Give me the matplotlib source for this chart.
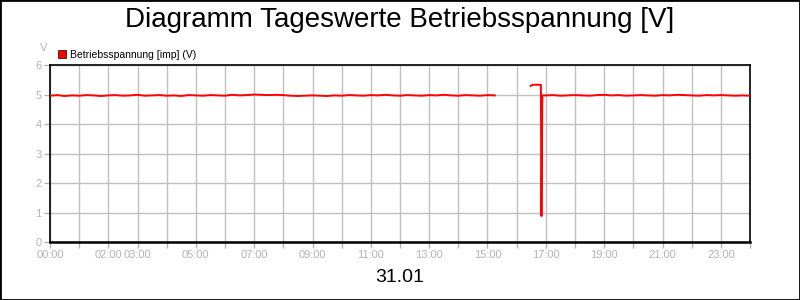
import matplotlib
matplotlib.use("Agg")
import matplotlib.pyplot as plt
from matplotlib.patches import Patch, Rectangle
import numpy as np

plt.rcParams['font.family'] = ['Liberation Sans', 'DejaVu Sans']

# Betriebsspannung, Werte alle 15 min (00:00 - 15:15)
volts_morning = [4.96, 4.98, 4.95, 4.97, 4.96, 4.98, 4.97, 4.95, 4.97, 4.98,
                 4.96, 4.97, 4.99, 4.96, 4.97, 4.98, 4.96, 4.97, 4.95, 4.98,
                 4.97, 4.96, 4.98, 4.97, 4.96, 4.99, 4.97, 4.98, 5.00, 4.99,
                 4.98, 4.99, 4.98, 4.96, 4.95, 4.96, 4.97, 4.96, 4.95, 4.97,
                 4.96, 4.98, 4.97, 4.96, 4.98, 4.97, 4.99, 4.97, 4.96, 4.98,
                 4.97, 4.96, 4.98, 4.97, 4.99, 4.97, 4.96, 4.98, 4.97, 4.96,
                 4.98, 4.97]
hours_morning = np.arange(len(volts_morning)) * 0.25

# kurzer Ausreisser gegen 17:00
hours_event = [16.48, 16.55, 16.83, 16.85, 16.88]
volts_event = [5.29, 5.33, 5.33, 0.88, 4.97]

# 17:00 - 24:00
volts_evening = [4.97, 4.98, 4.96, 4.97, 4.98, 4.97, 4.96, 4.98, 4.99, 4.97,
                 4.98, 4.96, 4.97, 4.98, 4.97, 4.96, 4.98, 4.97, 4.99, 4.98,
                 4.97, 4.96, 4.98, 4.97, 4.98, 4.97, 4.96, 4.97, 4.96]
hours_evening = 17.0 + np.arange(len(volts_evening)) * 0.25

hours = np.concatenate([hours_morning, [15.6], hours_event, hours_evening])
volts = np.concatenate([volts_morning, [np.nan], volts_event, volts_evening])

tick_labels = {0: "00:00", 2: "02:00", 3: "03:00", 5: "05:00", 7: "07:00",
               9: "09:00", 11: "11:00", 13: "13:00", 15: "15:00", 17: "17:00",
               19: "19:00", 21: "21:00", 23: "23:00"}

gray = "#b4b4b4"

fig = plt.figure(figsize=(8, 3), dpi=100)
ax = fig.add_axes([0.0625, 0.1933, 0.875, 0.59])

ax.plot(hours, volts, color="#ff0000", lw=1.4, zorder=3)

ax.set_xlim(0, 24)
ax.set_ylim(0, 6)
ax.set_xticks(range(25))
ax.set_xticklabels([tick_labels.get(h, "") for h in range(25)])
ax.set_yticks(range(7))
ax.grid(True, color="#c0c0c0", lw=1)
ax.tick_params(colors=gray, labelsize=8, length=4, width=1, pad=2)
for s in ax.spines.values():
    s.set_color("black")
    s.set_linewidth(1.2)
ax.spines['bottom'].set_linewidth(1.8)

fig.suptitle("Diagramm Tageswerte Betriebsspannung [V]", y=0.978, fontsize=20)
fig.text(0.054, 0.83, "V", color=gray, fontsize=8, ha="center")
fig.text(0.5, 0.06, "31.01", fontsize=14, ha="center")

ax.legend(handles=[Patch(facecolor="#ff0000", edgecolor="black", lw=0.5,
                         label="Betriebsspannung [imp] (V)")],
          loc="lower left", bbox_to_anchor=(0.072, 0.8), bbox_transform=fig.transFigure,
          frameon=False, fontsize=7.5, handlelength=0.8, handleheight=0.8,
          handletextpad=0.4, borderpad=0, borderaxespad=0)

fig.patches.append(Rectangle((0, 0), 1, 1, transform=fig.transFigure,
                             fill=False, edgecolor="black", lw=2))

fig.savefig("out.png", dpi=100)
